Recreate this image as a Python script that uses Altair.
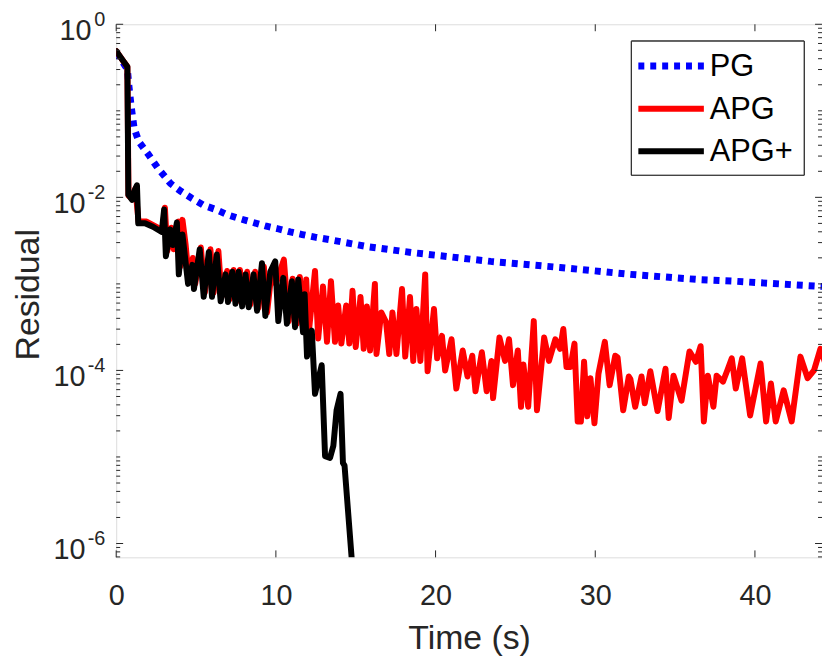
import altair as alt
import pandas as pd

# ---------------- data (time in s, log10 of residual) ----------------
pg_t = [0, 0.35, 0.7, 0.8, 0.93, 1.12, 1.43, 2.0, 2.6, 3.4, 4.05, 4.73, 5.46, 6.23,
        6.95, 7.8, 8.57, 9.34, 10.07, 10.9, 11.65, 12.45, 13.4, 15.75, 18.6, 23.45,
        27.8, 32.2, 36.5, 38.8, 44.2]
pg_log = [-0.33, -0.42, -0.52, -0.72, -0.94, -1.2, -1.36, -1.5, -1.66, -1.84, -1.93,
          -2.01, -2.09, -2.14, -2.2, -2.25, -2.29, -2.33, -2.36, -2.4, -2.43, -2.46,
          -2.49, -2.57, -2.64, -2.74, -2.81, -2.89, -2.95, -2.97, -3.03]

apg_t = [0, 0.35, 0.7, 0.77, 1.0, 1.2, 1.4, 1.9, 2.4, 2.9, 3.05, 3.2, 3.45, 3.6, 3.9,
         4.0, 4.15, 4.35, 4.55, 4.8, 4.95, 5.3, 5.55, 5.9, 6.1, 6.4, 6.6, 6.95, 7.1,
         7.35, 7.55, 7.75, 7.95, 8.2, 8.4, 8.7, 8.9, 9.25, 9.45, 9.75, 10.0, 10.5,
         10.8, 11.05, 11.3, 11.5, 11.75, 11.9, 12.05, 12.45, 12.65, 12.95, 13.2,
         13.45, 13.7, 13.9, 14.1, 14.4, 14.6, 14.8, 15.0, 15.3, 15.5, 15.7, 15.9,
         16.2, 16.3, 16.6, 16.9, 17.1, 17.3, 17.55, 17.9, 18.1, 18.4, 18.6, 18.8,
         19.05, 19.35, 19.5, 19.9, 20.1, 20.4, 20.6, 21.0, 21.3, 21.7, 22.0, 22.3,
         22.5, 22.9, 23.2, 23.5, 23.6, 24.0, 24.35, 24.6, 24.85, 25.15, 25.35, 25.5,
         25.8, 26.15, 26.35, 26.8, 27.1, 27.5, 27.8, 28.0, 28.2, 28.45, 28.7, 28.9,
         29.1, 29.3, 29.5, 29.7, 29.95, 30.2, 30.6, 30.9, 31.25, 31.4, 31.75, 32.1,
         32.2, 32.5, 32.9, 33.1, 33.45, 33.9, 34.4, 34.6, 34.9, 35.4, 35.9, 36.3,
         36.6, 36.8, 37.05, 37.4, 37.6, 38.0, 38.25, 38.55, 38.8, 39.2, 39.7, 40.35,
         40.7, 41.0, 41.3, 41.8, 42.3, 42.85, 43.3, 43.7, 44.1, 44.45]
apg_log = [-0.31, -0.4, -0.49, -1.98, -2.02, -1.9, -2.28, -2.28, -2.33, -2.38, -2.12,
           -2.62, -2.35, -2.6, -2.28, -2.8, -2.26, -2.55, -2.95, -2.7, -3.0, -2.58,
           -3.1, -2.6, -3.1, -2.62, -3.15, -2.85, -3.18, -2.84, -3.2, -2.84, -3.22,
           -2.86, -3.24, -2.86, -3.28, -2.8, -3.33, -2.83, -3.0, -2.72, -3.43, -2.94,
           -3.46, -2.92, -3.52, -2.95, -3.58, -2.85, -3.63, -3.03, -3.67, -2.97,
           -3.67, -3.25, -3.69, -3.25, -3.69, -3.08, -3.73, -3.15, -3.75, -3.26,
           -3.77, -3.0, -3.81, -3.33, -3.44, -3.81, -3.33, -3.81, -3.06, -3.84, -3.15,
           -3.89, -3.29, -3.89, -2.89, -4.01, -3.29, -3.86, -3.6, -4.0, -3.64, -4.21,
           -3.77, -4.07, -3.83, -4.24, -3.79, -4.24, -3.89, -4.32, -3.62, -3.89, -3.64,
           -4.17, -3.77, -4.42, -3.93, -4.42, -3.43, -4.46, -3.62, -3.89, -3.64, -3.75,
           -3.52, -3.96, -3.96, -3.69, -4.59, -4.59, -3.9, -4.53, -4.09, -4.61, -4.04,
           -3.67, -4.17, -3.83, -3.85, -4.46, -4.07, -4.1, -4.42, -4.07, -4.38, -4.01,
           -4.47, -3.98, -4.55, -4.06, -4.35, -3.78, -3.9, -3.72, -4.59, -4.06, -4.42,
           -4.06, -4.13, -4.01, -3.86, -4.21, -3.86, -4.52, -3.92, -4.59, -4.15, -4.59,
           -4.23, -4.59, -3.84, -4.09, -4.0, -3.75, -3.94]

apgp_t = [0, 0.35, 0.7, 0.76, 1.0, 1.15, 1.3, 1.38, 1.8, 2.3, 2.85, 3.0, 3.11, 3.38,
          3.55, 3.8, 3.92, 4.15, 4.5, 4.77, 4.87, 5.23, 5.48, 5.8, 6.0, 6.3, 6.54,
          6.85, 7.0, 7.27, 7.47, 7.67, 7.89, 8.1, 8.3, 8.6, 8.82, 9.13, 9.34, 9.65,
          9.96, 10.15, 10.46, 10.69, 11.0, 11.2, 11.4, 11.7, 11.8, 11.95, 12.25,
          12.45, 12.87, 13.08, 13.39, 13.6, 13.8, 14.05, 14.2, 14.3, 14.75, 14.85]
apgp_log = [-0.31, -0.4, -0.49, -1.97, -2.03, -1.92, -1.86, -2.3, -2.3, -2.34, -2.4,
            -2.14, -2.68, -2.37, -2.55, -2.29, -2.89, -2.43, -3.0, -2.78, -3.06, -2.6,
            -3.15, -2.63, -3.15, -2.66, -3.2, -2.89, -3.21, -2.86, -3.23, -2.86, -3.26,
            -2.89, -3.27, -2.89, -3.31, -2.76, -3.37, -2.86, -2.74, -3.43, -2.93,
            -3.46, -2.97, -3.5, -2.95, -3.56, -3.12, -3.84, -3.54, -4.27, -3.94, -4.99,
            -5.01, -4.87, -4.46, -4.27, -5.07, -5.1, -6.18, -6.6]

series_names = ["PG", "APG", "APG+"]
series_colors = ["#0000ff", "#ff0000", "#000000"]

x_ticks = [0, 10, 20, 30, 40]
y_label_exp = [0, -2, -4, -6]

# ---------------- tables ----------------
def mk(name, ts, ls):
    return pd.DataFrame({"t": ts, "r": [10.0 ** v for v in ls], "series": name,
                         "i": list(range(len(ts)))})

df = pd.concat([mk("PG", pg_t, pg_log), mk("APG", apg_t, apg_log),
                mk("APG+", apgp_t, apgp_log)], ignore_index=True)

ymin = 10 ** -6.16
y_major = pd.DataFrame({"r": [10.0 ** e for e in y_label_exp],
                        "es": [str(e) for e in y_label_exp]})
minor_vals = []
for d in range(-7, 0):
    for m in range(1, 10):
        v = m * 10.0 ** d
        if v < ymin or v > 1:
            continue
        if m == 1 and d in y_label_exp:
            continue
        minor_vals.append(v)
y_minor = pd.DataFrame({"r": minor_vals})
x_major = pd.DataFrame({"t": x_ticks})

W, H = 711, 537
FONT = "Liberation Sans"
AX = "#262626"

xs = alt.Scale(domain=[0, 44.2], nice=False, zero=False)
ys = alt.Scale(type="log", domain=[ymin, 1], nice=False)

x_axis = alt.Axis(values=x_ticks, ticks=False, domain=False, grid=False,
                  labelFlush=False, labelOverlap=False, format="d",
                  labelFontSize=29, labelColor=AX, labelPadding=25,
                  labelFont=FONT, title="Time (s)", titleFontSize=34,
                  titleFont=FONT, titleFontWeight="normal",
                  titleColor=AX, titleBaseline="alphabetic", titleY=92)
y_axis = alt.Axis(labels=False, ticks=False, domain=False, grid=False,
                  title="Residual", titleFontSize=34, titleFont=FONT,
                  titleFontWeight="normal", titleColor=AX,
                  titleBaseline="alphabetic", titleX=-78, titleY=272)

x_enc = alt.X("t:Q", scale=xs, axis=x_axis, title="Time (s)")
y_enc = alt.Y("r:Q", scale=ys, axis=y_axis, title="Residual")

base = alt.Chart(df)


def line(name, width, **kw):
    return base.transform_filter(alt.datum.series == name).mark_line(
        clip=True, strokeWidth=width, color=series_colors[series_names.index(name)], **kw
    ).encode(x=x_enc, y=y_enc, order="i:Q")


pg_line = line("PG", 7, strokeDash=[6, 6], strokeCap="butt")
apg_line = line("APG", 6, strokeJoin="round", strokeCap="round")
apgp_line = line("APG+", 6, strokeJoin="round", strokeCap="round")

tick_l_major = alt.Chart(y_major).mark_rule(color=AX, strokeWidth=1).encode(
    y=y_enc, x=alt.value(0), x2=alt.value(7))
tick_r_major = alt.Chart(y_major).mark_rule(color=AX, strokeWidth=1).encode(
    y=y_enc, x=alt.value(W - 7), x2=alt.value(W))
tick_l_minor = alt.Chart(y_minor).mark_rule(color=AX, strokeWidth=1).encode(
    y=y_enc, x=alt.value(0), x2=alt.value(4))
tick_r_minor = alt.Chart(y_minor).mark_rule(color=AX, strokeWidth=1).encode(
    y=y_enc, x=alt.value(W - 4), x2=alt.value(W))
tick_b = alt.Chart(x_major).mark_rule(color=AX, strokeWidth=1).encode(
    x=x_enc, y=alt.value(H - 7), y2=alt.value(H))
tick_t = alt.Chart(x_major).mark_rule(color=AX, strokeWidth=1).encode(
    x=x_enc, y=alt.value(0), y2=alt.value(7))

exp_txt = alt.Chart(y_major).mark_text(
    align="right", baseline="middle", dy=-4, fontSize=20, font=FONT, color=AX
).encode(y=y_enc, x=alt.value(-11), text="es:N")
ten_short = alt.Chart(y_major).transform_filter("length(datum.es) == 1").mark_text(
    align="right", baseline="middle", dy=7, fontSize=29, font=FONT, color=AX, text="10"
).encode(y=y_enc, x=alt.value(-25))
ten_long = alt.Chart(y_major).transform_filter("length(datum.es) > 1").mark_text(
    align="right", baseline="middle", dy=7, fontSize=29, font=FONT, color=AX, text="10"
).encode(y=y_enc, x=alt.value(-31))

# ---------------- legend ----------------
leg_df = pd.DataFrame({"series": series_names})
LX0, LX1, LY0, LY1 = 519, 693, 17, 152
rows = [42, 85, 128]
leg_box = alt.Chart(leg_df).mark_rect(fill="white", stroke=AX, strokeWidth=1).encode(
    x=alt.value(LX0), x2=alt.value(LX1), y=alt.value(LY0), y2=alt.value(LY1))
leg_layers = [leg_box]
for k, name in enumerate(series_names):
    sub = alt.Chart(leg_df).transform_filter(alt.datum.series == name)
    kw = dict(strokeDash=[6, 6], strokeWidth=7, strokeCap="butt") if name == "PG" \
        else dict(strokeWidth=6)
    leg_layers.append(sub.mark_rule(color=series_colors[k], **kw).encode(
        x=alt.value(526), x2=alt.value(592), y=alt.value(rows[k])))
    leg_layers.append(sub.mark_text(align="left", baseline="middle", fontSize=31,
                                    font=FONT, color="black", dy=1).encode(
        x=alt.value(598), y=alt.value(rows[k]), text="series:N"))

chart = alt.layer(
    pg_line, apg_line, apgp_line,
    tick_l_major, tick_r_major, tick_l_minor, tick_r_minor, tick_b, tick_t,
    exp_txt, ten_short, ten_long, *leg_layers
).properties(
    width=W, height=H,
    padding={"left": 109, "top": 14, "right": 0, "bottom": 100},
    autosize=alt.AutoSizeParams(type="none"),
    background="white",
).configure_view(stroke=AX, strokeWidth=1.2).configure(font=FONT)

chart.save("out.html", embed_options={"renderer": "svg", "actions": False})
